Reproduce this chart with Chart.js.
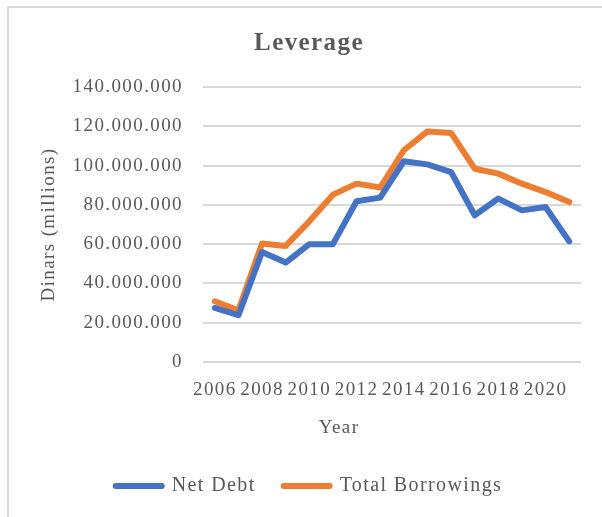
<!DOCTYPE html>
<html>
<head>
<meta charset="utf-8">
<title>Leverage</title>
<script src="https://cdn.jsdelivr.net/npm/chart.js@4/dist/chart.umd.min.js"></script>
<style>
  html, body { margin: 0; padding: 0; background: #ffffff; overflow: hidden; }
  #frame {
    position: absolute; left: 7px; top: 6px; width: 800px; height: 800px;
    border-left: 2px solid #d9d9d9; border-top: 2px solid #d9d9d9;
  }
  #wrap { position: absolute; left: 0; top: 0; width: 602px; height: 517px; }
</style>
</head>
<body>
<div id="frame"></div>
<div id="wrap"><canvas id="chart" width="602" height="517"></canvas></div>
<script>
// Years on the category axis
const years = ['2006', '2007', '2008', '2009', '2010', '2011', '2012', '2013',
               '2014', '2015', '2016', '2017', '2018', '2019', '2020', '2021'];

// Labelled years along the bottom
const xTickLabels = ['2006', '2008', '2010', '2012', '2014', '2016', '2018', '2020'];

// Net debt, dinars
const netDebt = [27500000, 23800000, 56000000, 50600000, 60000000, 60000000,
                 81800000, 83700000, 102200000, 100600000, 96700000, 74700000,
                 83200000, 77200000, 78900000, 61400000];

// Total borrowings, dinars
const totalBorrowings = [30900000, 26300000, 60300000, 59100000, 71600000, 85200000,
                         90800000, 88800000, 107800000, 117400000, 116600000, 98400000,
                         95900000, 90800000, 86500000, 81400000];

// Value axis ticks
const yTicks = [0, 20000000, 40000000, 60000000, 80000000, 100000000, 120000000, 140000000];

const TEXT = '#595959';
const FAMILY = "'Liberation Serif', 'Times New Roman', serif";

// thousands grouped with dots: 140.000.000
function dotted(v) {
  return String(Math.round(v)).replace(/\B(?=(\d{3})+(?!\d))/g, '.');
}

// slightly open letter spacing for all chart text
const spacing = {
  id: 'spacing',
  beforeUpdate(chart) { chart.ctx.letterSpacing = '1.4px'; },
  beforeDraw(chart) { chart.ctx.letterSpacing = '1.4px'; }
};

// x axis title, set a little left of the plot centre
const yearTitle = {
  id: 'yearTitle',
  afterDraw(chart, args, opts) {
    const { ctx, chartArea } = chart;
    ctx.save();
    ctx.font = '19px ' + FAMILY;
    ctx.fillStyle = TEXT;
    ctx.textAlign = 'center';
    ctx.textBaseline = 'middle';
    const x = chartArea.left + (chartArea.right - chartArea.left) * opts.position;
    ctx.fillText(opts.text, x, chartArea.bottom + opts.offset);
    ctx.restore();
  }
};

new Chart(document.getElementById('chart'), {
  type: 'line',
  data: {
    labels: years,
    datasets: [
      {
        label: 'Net Debt',
        data: netDebt,
        borderColor: '#4472C4',
        backgroundColor: '#4472C4',
        borderWidth: 6,
        borderJoinStyle: 'round',
        borderCapStyle: 'round',
        pointRadius: 0,
        tension: 0
      },
      {
        label: 'Total Borrowings',
        data: totalBorrowings,
        borderColor: '#ED7D31',
        backgroundColor: '#ED7D31',
        borderWidth: 6,
        borderJoinStyle: 'round',
        borderCapStyle: 'round',
        pointRadius: 0,
        tension: 0
      }
    ]
  },
  options: {
    responsive: false,
    devicePixelRatio: 1,
    animation: false,
    events: [],
    layout: { padding: { left: 16, right: 0, top: 7, bottom: 11 } },
    scales: {
      x: {
        offset: true,
        grid: { display: false },
        border: { display: false },
        ticks: {
          autoSkip: false,
          maxRotation: 0,
          padding: 9,
          color: TEXT,
          font: { family: FAMILY, size: 19 },
          callback: (v, i) => xTickLabels.includes(years[i]) ? years[i] : ''
        },
        afterFit: (s) => { s.height = 86; }
      },
      y: {
        min: 0,
        max: 140000000,
        afterBuildTicks: (s) => { s.ticks = yTicks.map(v => ({ value: v })); },
        grid: { color: '#d9d9d9', lineWidth: 2, drawTicks: false },
        border: { display: false },
        ticks: {
          padding: 20,
          color: TEXT,
          font: { family: FAMILY, size: 19 },
          callback: (v) => dotted(v)
        },
        title: {
          display: true,
          text: 'Dinars (millions)',
          color: TEXT,
          font: { family: FAMILY, size: 19 },
          padding: { top: 22, bottom: 11 }
        },
        afterFit: (s) => { s.width = 187; }
      },
      // empty margin on the right of the plot
      margin: {
        type: 'linear',
        position: 'right',
        grid: { display: false },
        border: { display: false },
        ticks: { display: false },
        afterFit: (s) => { s.width = 21; }
      }
    },
    plugins: {
      title: {
        display: true,
        text: 'Leverage',
        color: TEXT,
        font: { family: FAMILY, size: 25, weight: 'bold' },
        padding: { top: 22, bottom: 28 }
      },
      legend: {
        position: 'bottom',
        labels: {
          color: TEXT,
          font: { family: FAMILY, size: 20 },
          usePointStyle: true,
          pointStyleWidth: 46,
          padding: 28,
          generateLabels: (chart) => {
            const items = Chart.defaults.plugins.legend.labels.generateLabels(chart);
            items.forEach((it, i) => {
              const ds = chart.data.datasets[i];
              it.pointStyle = 'line';
              it.lineWidth = 6;
              it.lineCap = 'round';
              it.strokeStyle = ds.borderColor;
              it.fillStyle = ds.borderColor;
            });
            return items;
          }
        }
      },
      tooltip: { enabled: false },
      yearTitle: { text: 'Year', position: 0.36, offset: 66 }
    }
  },
  plugins: [spacing, yearTitle]
});
</script>
</body>
</html>
